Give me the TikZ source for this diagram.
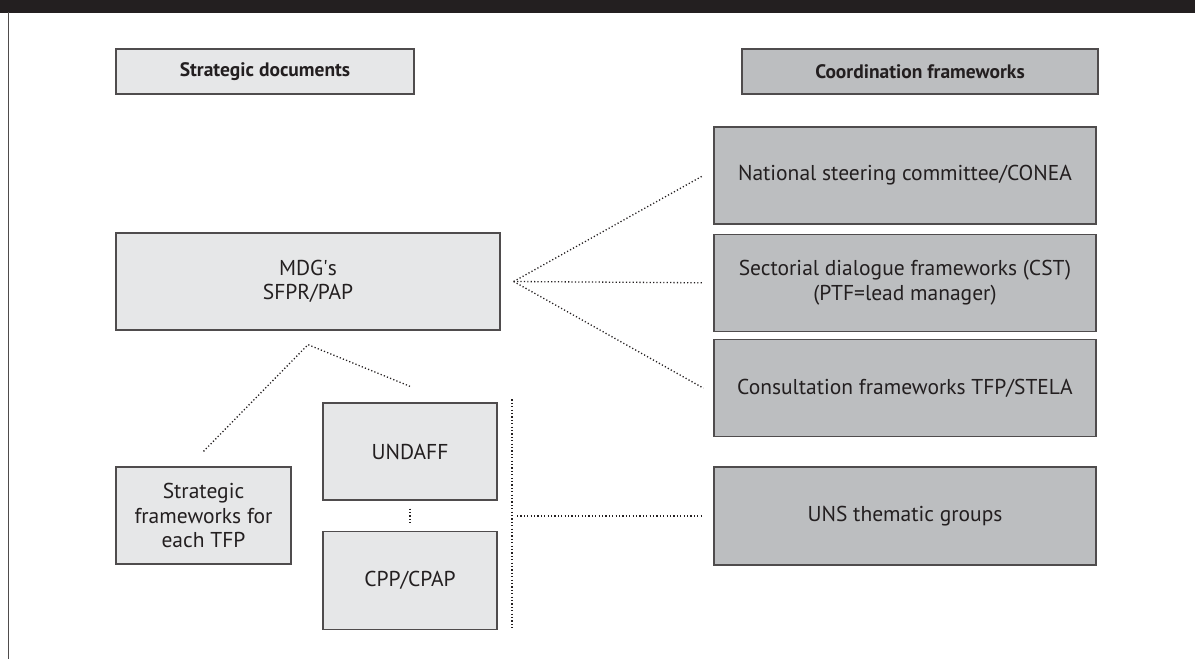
\documentclass[tikz,border=0pt]{standalone}
\usepackage{fontspec}
\setmainfont{PT Sans}
\usetikzlibrary{positioning}
\definecolor{lightbox}{HTML}{E6E7E8}
\definecolor{darkbox}{HTML}{BCBEC0}
\definecolor{ink}{HTML}{231F20}
\tikzset{
  box/.style={draw=ink!80, line width=1.3pt, text=ink, align=center, inner sep=0pt,
    font=\fontsize{21.5}{24.5}\selectfont},
  light box/.style={box, fill=lightbox},
  dark box/.style={box, fill=darkbox},
  header/.style={font=\fontsize{19.5}{23}\selectfont\bfseries},
  link/.style={ink, line width=1.3pt, dash pattern=on 1.2pt off 2.2pt},
}

\begin{document}
\begin{tikzpicture}[x=1pt, y=-1pt]
  \useasboundingbox (0,0) rectangle (1195,659);

  % Frame
  \fill[ink] (0,0) rectangle (1195,12.5);
  \draw[ink!80, line width=1.3pt] (8.5,12) -- (8.5,659);

  % Headers
  \node[light box, header, minimum width=298, minimum height=45] (strat) at (265,71.5) {Strategic documents};
  \node[dark box, header, minimum width=356, minimum height=45] (coord) at (920,71.5) {Coordination frameworks};

  % Strategic documents
  \node[light box, minimum width=384, minimum height=97] (mdg) at (308,281.5) {MDG\textquotesingle s\\SFPR/PAP};
  \node[light box, minimum width=175, minimum height=97] (sf) at (203.5,515.5) {Strategic\\frameworks for\\each TFP};
  \node[light box, minimum width=174, minimum height=97] (undaf) at (410,451.5) {UNDAFF};
  \node[light box, minimum width=174, minimum height=98, below=30pt of undaf] (cpp) {CPP/CPAP};

  % Coordination frameworks
  \node[dark box, minimum width=382, minimum height=97] (nat) at (905,175.5) {National steering committee/CONEA};
  \node[dark box, minimum width=382, minimum height=97, below=9pt of nat] (sect) {Sectorial dialogue frameworks (CST)\\(PTF=lead manager)};
  \node[dark box, minimum width=382, minimum height=97, below=7pt of sect] (cons) {Consultation frameworks TFP/STELA};
  \node[dark box, minimum width=382, minimum height=98] (uns) at (905,516) {UNS thematic groups};

  % Links
  \coordinate[right=13pt of mdg.east] (fan);
  \foreach \n in {nat,sect,cons}
    \draw[link] (fan) -- ([xshift=-10pt]\n.west);
  \coordinate[below=14pt of mdg.south] (apex);
  \draw[link] ([yshift=15pt]sf.north) -- (apex) -- ([yshift=16pt]undaf.north);
  \draw[link] ([yshift=-8pt]undaf.south) -- ([yshift=6pt]cpp.north);
  \coordinate (brtop) at ([xshift=102pt, yshift=3pt]undaf.north);
  \coordinate (brbot) at ([xshift=102pt, yshift=1pt]cpp.south);
  \draw[link] (brtop) -- (brbot);
  \draw[link] ([xshift=5pt]brtop |- uns.west) -- ([xshift=-10pt]uns.west);
\end{tikzpicture}
\end{document}
